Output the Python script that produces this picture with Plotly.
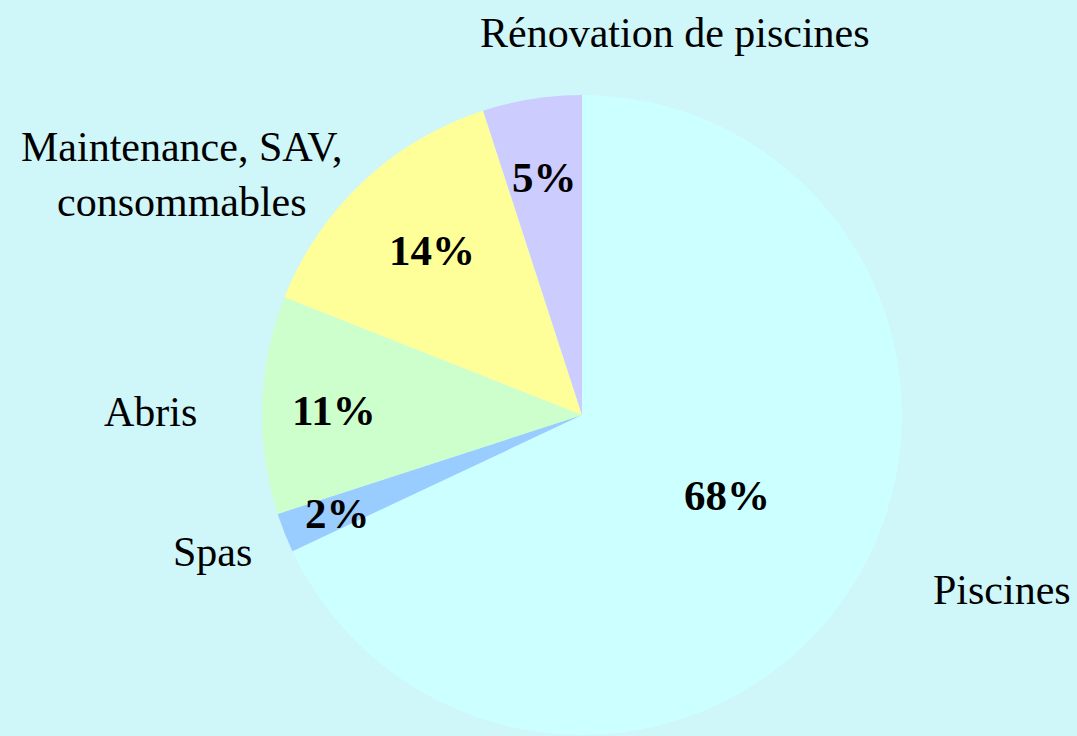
import plotly.graph_objects as go

categories = ["Piscines", "Spas", "Abris", "Maintenance, SAV,<br>consommables", "Rénovation de piscines"]
values = [68, 2, 11, 14, 5]
colors = ["#CCFFFF", "#99CCFF", "#CCFFCC", "#FFFF99", "#CCCCFF"]

W, H = 1077, 736

# label positions (pixels) for category names and percentages
label_pos = [(1002, 590), (212, 552), (150, 412), (182, 174), (675, 33)]
pct_pos = [(727, 495), (337, 513), (334, 410), (432, 250), (544, 177)]

cx, cy, r = 582, 415, 320

fig = go.Figure(go.Pie(
    labels=categories,
    values=values,
    sort=False,
    direction="clockwise",
    rotation=0,
    marker=dict(colors=colors, line=dict(width=0)),
    textinfo="none",
    hoverinfo="label+percent",
    showlegend=False,
    domain=dict(x=[(cx - r) / W, (cx + r) / W], y=[1 - (cy + r) / H, 1 - (cy - r) / H]),
))

annotations = []
for cat, (px, py) in zip(categories, label_pos):
    annotations.append(dict(
        x=px / W, y=1 - py / H, xref="paper", yref="paper",
        text=cat, showarrow=False, xanchor="center", yanchor="middle",
        font=dict(family="Liberation Serif", size=42, color="black"), align="center",
    ))
for v, (px, py) in zip(values, pct_pos):
    annotations.append(dict(
        x=px / W, y=1 - py / H, xref="paper", yref="paper",
        text=f"<b>{v}%</b>", showarrow=False, xanchor="center", yanchor="middle",
        font=dict(family="Liberation Serif", size=43, color="black"),
    ))

fig.update_layout(
    width=W, height=H,
    margin=dict(l=0, r=0, t=0, b=0),
    paper_bgcolor="#CFF6F9",
    plot_bgcolor="#CFF6F9",
    annotations=annotations,
)

fig.write_html(
    "out.html",
    config={"displayModeBar": False},
    post_script="document.body.style.margin='0';document.body.style.overflow='hidden';",
)
